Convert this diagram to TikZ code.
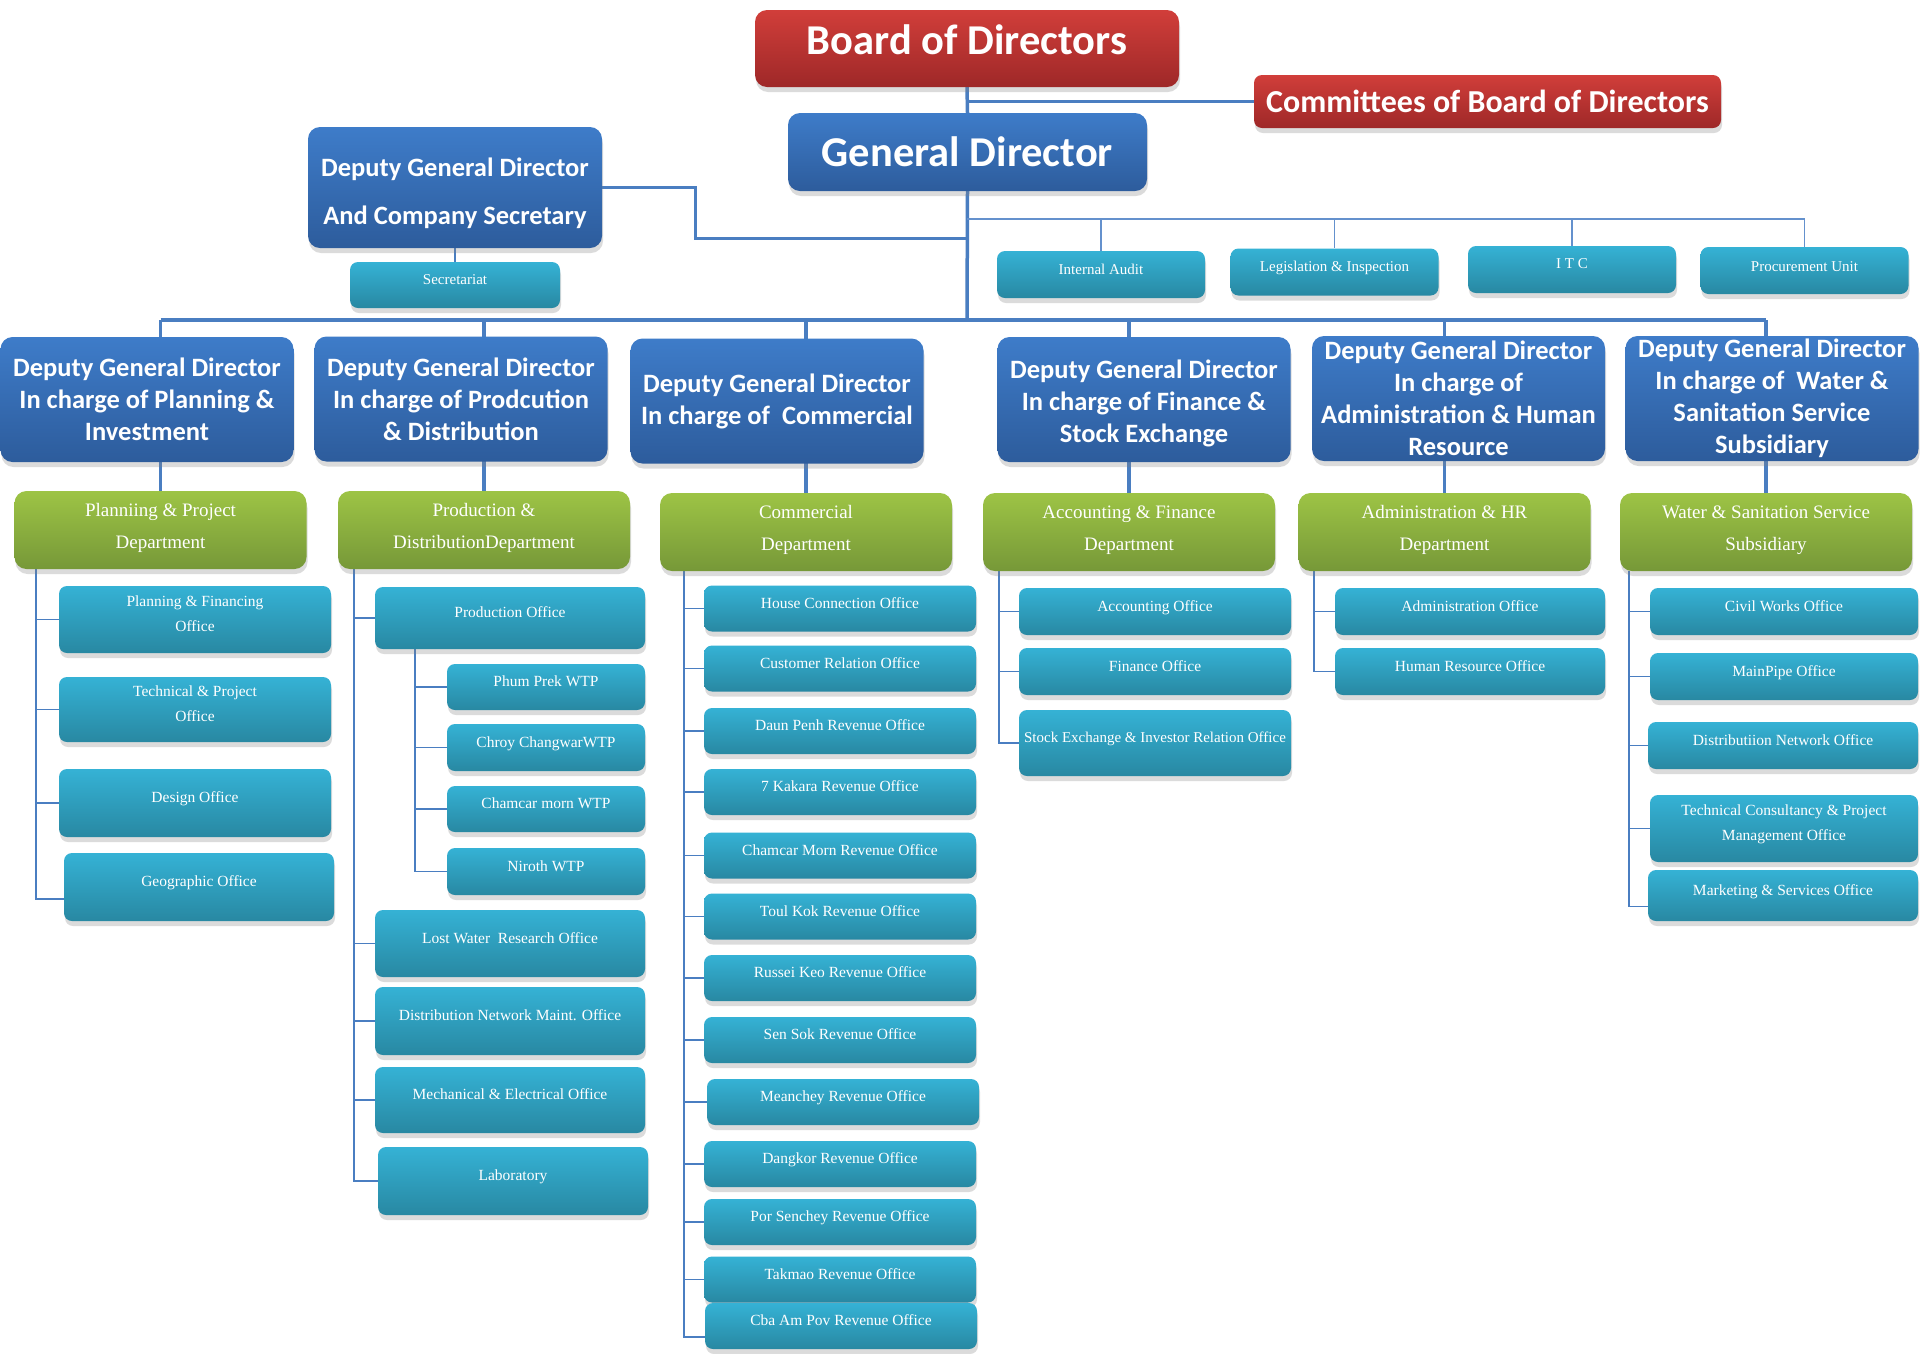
\documentclass[tikz,border=0pt]{standalone}
\usepackage{fontspec}
\setmainfont{Liberation Serif}
\newfontfamily\hdfont{Carlito}
\usetikzlibrary{shadows}
\pgfdeclarelayer{paper}
\pgfdeclarelayer{bg}
\pgfsetlayers{paper,bg,main}
\definecolor{lc}{RGB}{74,126,193}
\definecolor{lcl}{RGB}{100,145,205}
\definecolor{redT}{RGB}{209,62,58}
\definecolor{redB}{RGB}{158,40,40}
\definecolor{bluT}{RGB}{62,124,201}
\definecolor{bluB}{RGB}{45,92,156}
\definecolor{grnT}{RGB}{157,196,69}
\definecolor{grnB}{RGB}{118,152,56}
\definecolor{cyT}{RGB}{53,178,213}
\definecolor{cyB}{RGB}{40,136,162}
\begin{document}
\begin{tikzpicture}[x=1pt,y=-1pt,
  base/.style={rounded corners=12pt, inner sep=1pt, align=center, text=white,
    drop shadow={opacity=0.28, shadow xshift=1pt, shadow yshift=-5pt}},
  redbox/.style={base, top color=redT, bottom color=redB},
  bluebox/.style={base, top color=bluT, bottom color=bluB},
  dgd/.style={bluebox, minimum width=293pt, minimum height=125pt,
    font=\hdfont\bfseries\fontsize{26.5}{32}\selectfont},
  dept/.style={base, top color=grnT, bottom color=grnB, minimum width=292pt,
    minimum height=78pt, text depth=8pt, font=\fontsize{19}{32}\selectfont},
  ofc/.style={base, rounded corners=8pt, top color=cyT, bottom color=cyB,
    minimum height=46pt, text depth=11pt, font=\fontsize{15.5}{25}\selectfont},
  staff/.style={ofc, minimum width=208pt, minimum height=47pt,
    font=\fontsize{15}{17}\selectfont},
  mainline/.style={draw=lc, line width=3.5pt},
  midline/.style={draw=lcl, line width=2pt},
  thinline/.style={draw=lc, line width=1.4pt}]
\useasboundingbox (0,0) rectangle (1920,1353);
\begin{pgfonlayer}{paper}
\fill[white] (0,0) rectangle (1920,1353);
\end{pgfonlayer}

% top level
\node[redbox, minimum width=424pt, minimum height=77pt, text depth=18pt,
  font=\hdfont\bfseries\fontsize{42.5}{46}\selectfont] (bod) at (967,48.5) {Board of Directors};
\node[redbox, rounded corners=8pt, minimum width=467pt, minimum height=53pt,
  font=\hdfont\bfseries\fontsize{32}{34}\selectfont] (com) at (1487.5,101.5) {Committees of Board of Directors};
\node[bluebox, minimum width=359pt, minimum height=78pt,
  font=\hdfont\bfseries\fontsize{42.5}{46}\selectfont] (gd) at (967.5,152) {General Director};
\node[bluebox, minimum width=294pt, minimum height=121pt,
  font=\hdfont\bfseries\fontsize{26.5}{48}\selectfont] (dcs) at (455,187.5) {\rule{0pt}{31pt}Deputy General Director\\And Company Secretary};
\node[staff, minimum width=210pt, minimum height=46pt] (sec) at (455,285) {Secretariat};

% staff units
\node[staff] (ia) at (1101,274.5) {Internal Audit};
\node[staff] (li) at (1334.5,272) {Legislation \& Inspection};
\node[staff, text depth=12pt] (itc) at (1572,269.5) {I T C};
\node[staff, text depth=7pt] (pu) at (1804.5,270.5) {Procurement Unit};

% deputy general directors
\node[dgd] (d1) at (147,399.5) {Deputy General Director\\In charge of Planning \&\\Investment};
\node[dgd] (d2) at (461,399) {Deputy General Director\\In charge of Prodcution\\\& Distribution};
\node[dgd] (d3) at (777,401) {Deputy General Director\\In charge of~ Commercial};
\node[dgd] (d4) at (1144,399.5) {\rule{0pt}{27pt}Deputy General Director\\In charge of Finance \&\\Stock Exchange};
\node[dgd, inner sep=0pt] (d5) at (1458.5,398.5) {Deputy General Director\\In charge of\\Administration \& Human\\Resource};
\node[dgd, inner sep=0pt] (d6) at (1772,398.5) {Deputy General Director\\In charge of~ Water \&\\Sanitation Service\\Subsidiary};

% departments
\node[dept] (p1) at (160.5,530) {Planniing \& Project\\Department};
\node[dept] (p2) at (484,530) {Production \&\\DistributionDepartment};
\node[dept] (p3) at (806,532) {Commercial\\Department};
\node[dept] (p4) at (1129,532) {Accounting \& Finance\\Department};
\node[dept] (p5) at (1444.5,532) {Administration \& HR\\Department};
\node[dept] (p6) at (1766,532) {Water \& Sanitation Service\\Subsidiary};

% column 1
\node[ofc, minimum width=272pt, minimum height=67pt] (o1a) at (195,619.5) {Planning \& Financing\\Office};
\node[ofc, minimum width=272pt, minimum height=65pt] (o1b) at (195,709.5) {Technical \& Project\\Office};
\node[ofc, minimum width=272pt, minimum height=68pt] (o1c) at (195,803) {Design Office};
\node[ofc, minimum width=270pt, minimum height=68pt] (o1d) at (199,887) {Geographic Office};

% column 2
\node[ofc, minimum width=270pt, minimum height=62pt] (o2a) at (510,618) {Production Office};
\node[ofc, minimum width=198pt, minimum height=46pt] (w1) at (546,687) {Phum Prek WTP};
\node[ofc, minimum width=198pt, minimum height=47pt] (w2) at (546,747.5) {Chroy ChangwarWTP};
\node[ofc, minimum width=198pt, minimum height=46pt] (w3) at (546,809) {Chamcar morn WTP};
\node[ofc, minimum width=198pt, minimum height=47pt] (w4) at (546,871.5) {Niroth WTP};
\node[ofc, minimum width=270pt, minimum height=67pt] (o2b) at (510,943.5) {Lost Water~ Research Office};
\node[ofc, minimum width=270pt, minimum height=68pt] (o2c) at (510,1021) {Distribution Network Maint. Office};
\node[ofc, minimum width=270pt, minimum height=66pt] (o2d) at (510,1100) {Mechanical \& Electrical Office};
\node[ofc, minimum width=270pt, minimum height=68pt] (o2e) at (513,1181) {Laboratory};

% column 3
\node[ofc, minimum width=272pt] (c1) at (840,608.5) {House Connection Office};
\node[ofc, minimum width=272pt] (c2) at (840,668.5) {Customer Relation Office};
\node[ofc, minimum width=272pt] (c3) at (840,731) {Daun Penh Revenue Office};
\node[ofc, minimum width=272pt] (c4) at (840,792) {7 Kakara Revenue Office};
\node[ofc, minimum width=272pt] (c5) at (840,855.5) {Chamcar Morn Revenue Office};
\node[ofc, minimum width=272pt] (c6) at (840,916.5) {Toul Kok Revenue Office};
\node[ofc, minimum width=272pt] (c7) at (840,978) {Russei Keo Revenue Office};
\node[ofc, minimum width=272pt] (c8) at (840,1040) {Sen Sok Revenue Office};
\node[ofc, minimum width=272pt] (c9) at (843,1102) {Meanchey Revenue Office};
\node[ofc, minimum width=272pt] (c10) at (840,1164) {Dangkor Revenue Office};
\node[ofc, minimum width=272pt] (c11) at (840,1222) {Por Senchey Revenue Office};
\node[ofc, minimum width=272pt] (c12) at (840,1279.5) {Takmao Revenue Office};
\node[ofc, minimum width=272pt] (c13) at (841,1326) {Cba Am Pov Revenue Office};

% column 4
\node[ofc, minimum width=272pt, minimum height=47pt] (f1) at (1155,611.5) {Accounting Office};
\node[ofc, minimum width=272pt, minimum height=47pt] (f2) at (1155,671.5) {Finance Office};
\node[ofc, minimum width=272pt, minimum height=66pt, text depth=12pt, font=\fontsize{15}{20}\selectfont] (f3) at (1155,743) {Stock Exchange \& Investor Relation Office};

% column 5
\node[ofc, minimum width=270pt, minimum height=47pt] (h1) at (1470,611.5) {Administration Office};
\node[ofc, minimum width=270pt, minimum height=47pt] (h2) at (1470,671.5) {Human Resource Office};

% column 6
\node[ofc, minimum width=268pt, minimum height=47pt] (s1) at (1784,611.5) {Civil Works Office};
\node[ofc, minimum width=268pt, minimum height=47pt] (s2) at (1784,676.5) {MainPipe Office};
\node[ofc, minimum width=270pt, minimum height=47pt] (s3) at (1783,745.5) {Distributiion Network Office};
\node[ofc, minimum width=268pt, minimum height=67pt] (s4) at (1784,828.5) {Technical Consultancy \& Project\\Management Office};
\node[ofc, minimum width=270pt, minimum height=51pt] (s5) at (1783,895.5) {Marketing \& Services Office};

% spine coordinates
\coordinate (busD) at (967,320);
\coordinate (busS) at (967,219);
\coordinate (jcs) at (967,238);
\coordinate (sp1) at (36,569);
\coordinate (sp2) at (354,569);
\coordinate (sp2b) at (415,649);
\coordinate (sp3) at (684,571);
\coordinate (sp4) at (999,571);
\coordinate (sp5) at (1314,571);
\coordinate (sp6) at (1629,571);

\begin{pgfonlayer}{bg}
  % top connectors
  \draw[mainline] (bod.south) -- (gd.north);
  \draw[mainline, line width=3pt] (bod.south |- com.west) -- (com.west);
  \draw[mainline] (gd.south) -- (busD);
  \draw[mainline, line width=3pt] (dcs.east) -- ++(93,0) |- (jcs);
  \draw[thinline] (dcs.south) -- (sec.north);
  % staff units
  \draw[midline] (busS) -- (busS -| pu.north);
  \foreach \n in {ia,li,itc,pu} \draw[draw=lcl, line width=1.2pt] (busS -| \n.north) -- (\n.north);
  % DGD bus and drops
  \draw[mainline] (busD -| p1.north) -- (busD -| p6.north);
  \foreach \n in {p1,p2,p3,p4,p5,p6} \draw[mainline] (busD -| \n.north) -- (\n.north);
  % column 1
  \foreach \n in {o1a,o1b,o1c} \draw[thinline] (sp1) |- (\n.west);
  \draw[thinline] (sp1) |- ([yshift=-12pt]o1d.west);
  % column 2
  \foreach \n in {o2a,o2b,o2c,o2d,o2e} \draw[thinline] (sp2) |- (\n.west);
  \foreach \n in {w1,w2,w3,w4} \draw[thinline] (sp2b) |- (\n.west);
  % column 3
  \foreach \n in {c1,c2,c3,c4,c5,c6,c7,c8,c9,c10,c11,c12} \draw[thinline] (sp3) |- (\n.west);
  \draw[thinline] (sp3) |- ([yshift=-11pt]c13.west);
  % column 4
  \foreach \n in {f1,f2,f3} \draw[thinline] (sp4) |- (\n.west);
  % column 5
  \foreach \n in {h1,h2} \draw[thinline] (sp5) |- (\n.west);
  % column 6
  \foreach \n in {s1,s2,s3,s4} \draw[thinline] (sp6) |- (\n.west);
  \draw[thinline] (sp6) |- ([yshift=-11pt]s5.west);
\end{pgfonlayer}
\end{tikzpicture}
\end{document}
